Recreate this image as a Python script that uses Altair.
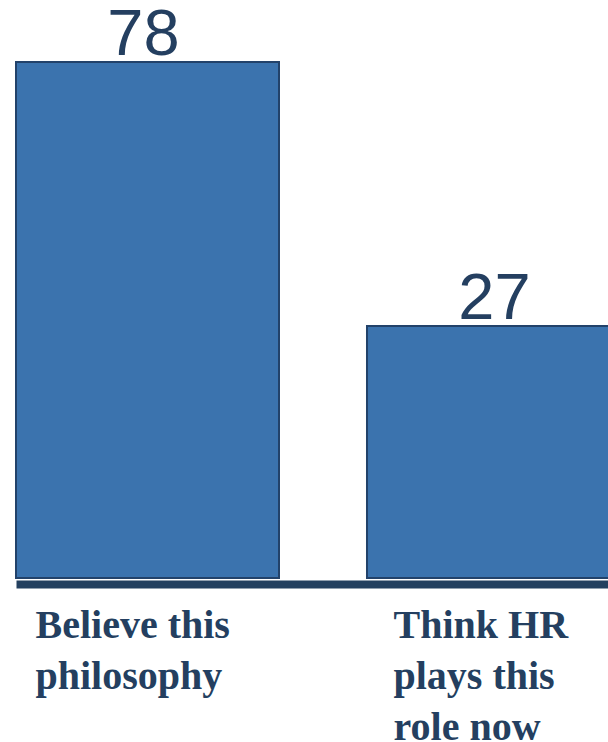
import altair as alt
import pandas as pd

categories = ["Believe this\nphilosophy", "Think HR\nplays this\nrole now"]
values = [78, 27]

Y_MIN = -21.7
Y_MAX = 90

df = pd.DataFrame({"category": categories, "value": values})

TEXT_COLOR = "#243f60"
BAR_FILL = "#3b73ae"
BAR_STROKE = "#22426a"

x_enc = alt.X(
    "category:N",
    sort=categories,
    scale=alt.Scale(range=[0, 614], paddingInner=0.2507, paddingOuter=0),
    axis=alt.Axis(
        title=None,
        ticks=False,
        tickSize=0,
        grid=False,
        domain=True,
        domainWidth=8,
        domainColor="#23405f",
        domainCap="butt",
        offset=6,
        labelExpr="split(datum.label, '\\n')",
        labelAlign="left",
        labelBaseline="top",
        labelPadding=21,
        labelLineHeight=51,
        labelFont="Liberation Serif",
        labelFontWeight="bold",
        labelFontSize=40,
        labelColor=TEXT_COLOR,
        labelAngle=0,
        labelLimit=0,
        labelOverlap=False,
        labelOffset={
            "condition": {"test": "indexof(datum.value, 'Believe') >= 0", "value": -112},
            "value": -105,
        },
    ),
)

y_scale = alt.Scale(domain=[Y_MIN, Y_MAX], zero=False, nice=False)

bars = alt.Chart(df).mark_bar(
    fill=BAR_FILL, stroke=BAR_STROKE, strokeWidth=2
).encode(
    x=x_enc,
    y=alt.Y("value:Q", scale=y_scale, axis=None),
    y2=alt.datum(Y_MIN),
)

labels = alt.Chart(df).mark_text(
    font="Liberation Sans",
    fontSize=65,
    color=TEXT_COLOR,
    baseline="alphabetic",
    align="center",
    dy=-7,
    dx=-4,
).encode(
    x=alt.X("category:N", sort=categories),
    y=alt.Y("value:Q", scale=y_scale, axis=None),
    text=alt.Text("value:Q"),
)

chart = (
    alt.layer(bars, labels)
    .properties(
        width=592,
        height=578,
        background="white",
        autosize=alt.AutoSizeParams(type="none"),
        padding={"left": 16, "top": 0, "right": 0, "bottom": 164},
    )
    .configure_view(stroke=None, strokeWidth=0)
    .configure_axis(grid=False)
)

chart.save("out.html", embed_options={"renderer": "svg", "actions": False})
